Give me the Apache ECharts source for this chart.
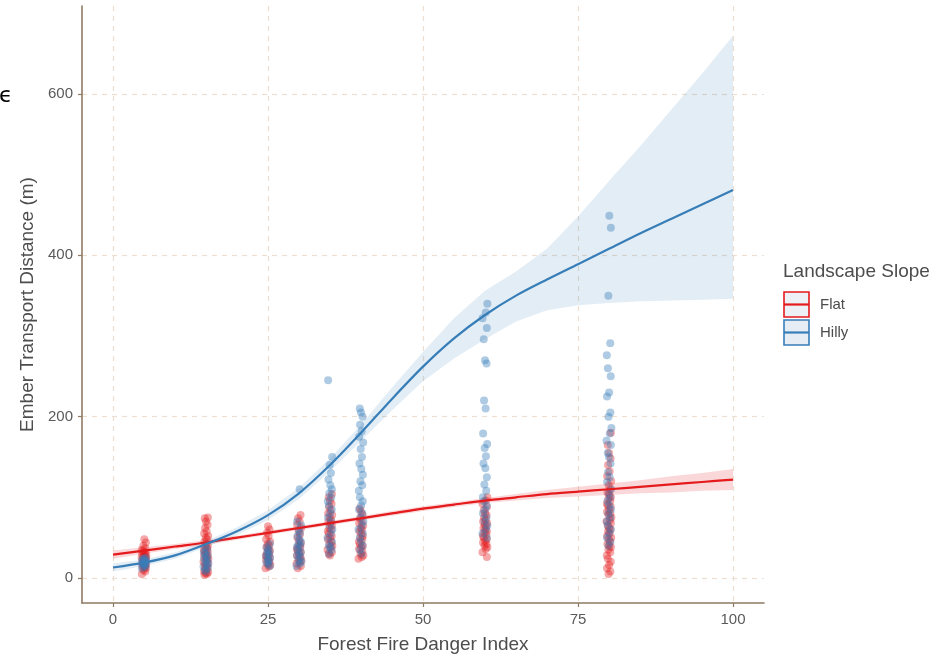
<!DOCTYPE html>
<html><head><meta charset="utf-8">
<script src="https://cdn.jsdelivr.net/npm/echarts@6/dist/echarts.min.js"></script>
<style>html,body{margin:0;padding:0;background:#fff}#c{width:947px;height:657px}</style>
</head><body><div id="c"></div>
<script>
// ---- data ----
const xTicks = [0, 25, 50, 75, 100];
const yTicks = [0, 200, 400, 600];
const fdiLevels = [5, 15, 25, 30, 35, 40, 60, 80];
// observed ember distances (m) per FFDI level
const flatObs = {
  5:  [5,8,10,12,13,14,15,16,17,18,19,20,21,22,23,24,25,26,27,28,29,30,31,32,33,35,37,40,44,48],
  15: [4,5,6,7,8,10,12,14,15,17,18,20,22,24,25,27,28,30,32,33,35,37,38,40,42,45,48,50,52,55,58,62,66,70,74,75],
  25: [12,14,16,18,20,22,24,25,27,28,30,32,34,36,38,40,42,45,48,52,56,60,64],
  30: [12,15,18,20,22,24,26,28,30,32,34,36,38,40,43,46,50,54,58,62,66,70,74,78],
  35: [28,30,32,35,38,40,42,45,48,50,52,55,58,60,62,65,68,70,72,75,78,80,84,88,92,96,100,104],
  40: [24,26,28,30,33,36,38,40,42,45,48,50,52,55,58,60,62,65,68,70,74,78,82,86],
  60: [26,32,36,38,40,42,44,46,48,50,52,54,56,58,60,62,64,66,68,70,72,75,78,80,84,88,92,96,100],
  80: [5,8,12,16,20,24,28,32,35,38,40,42,45,48,50,52,55,58,60,62,65,68,70,72,75,78,80,82,85,88,90,92,95,98,100,103,106,110,115,120,126,132,140,148,155,165,180]
};
const hillyObs = {
  5:  [12,14,15,16,17,18,19,20,21,22,23,24,25],
  15: [8,10,12,14,16,18,20,22,24,26,28,30,32,35,38],
  25: [15,17,19,21,23,25,27,29,31,33,35,38,42],
  30: [15,18,20,22,25,28,30,32,35,38,40,42,45,48,52,56,60,65,70,110],
  35: [30,35,38,40,45,50,55,60,65,70,75,80,85,90,95,100,105,110,115,122,130,140,150,245],
  40: [30,35,40,45,50,55,60,65,70,75,80,85,90,95,100,108,115,120,128,135,142,150,160,168,175,182,190,200,205,210],
  60: [50,55,60,65,70,75,80,85,90,95,100,108,116,125,136,142,151,161,166,179,210,220,266,270,296,310,322,329,340],
  80: [40,45,50,55,60,65,70,75,80,85,90,95,100,105,110,119,125,131,142,150,155,165,170,179,186,200,205,225,230,250,260,276,291,350,434,449]
};
// horizontal jitter (FFDI units) applied to points in order
const jitter = [-0.35,0.2,-0.1,0.3,0.05,-0.25,0.15,-0.05,0.35,-0.3,0.1,-0.15,0.25,0,-0.2,0.3,-0.4,0.12,0.38,-0.08,0.22,-0.32,0.02,0.28,-0.18];
// smoothed fits
const fitX     = [0,5,10,15,20,25,30,35,40,45,50,55,60,65,70,75,80,85,90,95,100];
const flatFit  = [29,34,39,44,50,56,62,68,74,80,86,91,96,100,104,107,110,113,116,119,122];
const flatLo   = [24,30,36,41,47.5,53.5,59.5,65.5,71.5,77,83,88,93,96,99,101,103,105,106,108,109];
const flatHi   = [34,38,42,47,52.5,58.5,64.5,70.5,76.5,83,89,94,99,104,109,113,117,121,126,130,135];
const hillyFit = [13,19,28,42,58,78,105,140,180,222,262,297,326,350,370,389,408,427,445,463,481];
const hillyLo  = [8,15,24,38,53,72,98,132,170,208,244,272,296,318,332,338,341,343,344,345,346];
const hillyHi  = [18,23,32,46,63,84,112,148,190,236,280,322,356,380,408,448,492,535,580,625,672];
const groups = ['Flat', 'Hilly'];

// ---- build ----
function pts(obs) {
  const out = []; let k = 0;
  fdiLevels.forEach(l => obs[l].forEach(v => { out.push([l + jitter[k % jitter.length], v]); k++; }));
  return out;
}
const pair = (xs, ys) => xs.map((x, i) => [x, ys[i]]);

const RED = '#E41A1C', BLUE = '#377EB8';
const AXC = '#8f7a63', TXT = '#4d4d4d';
const chart = echarts.init(document.getElementById('c'), null, {renderer: 'canvas'});

function bandSeries(lo, hi, color, z) {
  return {
    type: 'custom', silent: true, z: z, clip: true,
    data: [[fitX[0], lo[0]]],
    renderItem: function (params, api) {
      const top = fitX.map((x, i) => api.coord([x, hi[i]]));
      const bot = fitX.map((x, i) => api.coord([x, lo[i]])).reverse();
      return {type: 'polygon', shape: {points: top.concat(bot)}, style: {fill: color, stroke: null}};
    }
  };
}

chart.setOption({
  animation: false,
  grid: {left: 82, right: 183, top: 6, bottom: 54, containLabel: false, outerBoundsMode: 'none'},
  xAxis: {
    type: 'value', min: -5, max: 105,
    name: 'Forest Fire Danger Index', nameLocation: 'middle', nameGap: 32,
    nameTextStyle: {color: TXT, fontSize: 19, fontFamily: 'Liberation Sans'},
    axisLine: {show: true, onZero: false, lineStyle: {color: AXC, width: 1.6}},
    axisTick: {show: true, length: 4, customValues: xTicks, lineStyle: {color: AXC, width: 1.2}},
    axisLabel: {customValues: xTicks, color: '#5a5a5a', fontSize: 15, margin: 9, fontFamily: 'Liberation Sans'},
    splitLine: {show: true, lineStyle: {color: '#ecdfd2', type: [5, 5], width: 1.2}}
  },
  yAxis: {
    type: 'value', min: -31, max: 709,
    name: 'Ember Transport Distance (m)', nameLocation: 'middle', nameGap: 43, nameRotate: 90,
    nameTextStyle: {color: TXT, fontSize: 19, fontFamily: 'Liberation Sans'},
    axisLine: {show: true, onZero: false, lineStyle: {color: AXC, width: 1.6}},
    axisTick: {show: true, length: 4, customValues: yTicks, lineStyle: {color: AXC, width: 1.2}},
    axisLabel: {customValues: yTicks, color: '#5a5a5a', fontSize: 15, margin: 9, fontFamily: 'Liberation Sans'},
    splitLine: {show: true, lineStyle: {color: '#ecdfd2', type: [5, 5], width: 1.2}}
  },
  series: [
    {name: groups[0], type: 'scatter', data: pts(flatObs), symbolSize: 8, itemStyle: {color: RED, opacity: 0.38}, z: 2},
    {name: groups[1], type: 'scatter', data: pts(hillyObs), symbolSize: 8, itemStyle: {color: BLUE, opacity: 0.4}, z: 3},
    bandSeries(flatLo, flatHi, 'rgba(228,26,28,0.17)', 4),
    {type: 'line', data: pair(fitX, flatFit), symbol: 'none', smooth: 0.3, lineStyle: {color: RED, width: 2.2}, z: 5},
    bandSeries(hillyLo, hillyHi, 'rgba(55,126,184,0.14)', 6),
    {type: 'line', data: pair(fitX, hillyFit), symbol: 'none', smooth: 0.3, lineStyle: {color: BLUE, width: 2.2}, z: 7}
  ],
  graphic: [
    {type: 'text', left: -1, top: 85, style: {text: 'ϵ', font: '22px "DejaVu Sans"', fill: '#000'}},
    {type: 'text', left: 783, top: 262, style: {text: 'Landscape Slope', font: '19px "Liberation Sans"', fill: TXT}},
    {type: 'rect', shape: {x: 784, y: 292, width: 25, height: 25}, style: {fill: '#edf0f4', stroke: RED, lineWidth: 1.6}},
    {type: 'line', shape: {x1: 784, y1: 304.5, x2: 809, y2: 304.5}, style: {stroke: RED, lineWidth: 2.2}},
    {type: 'rect', shape: {x: 784, y: 320, width: 25, height: 25}, style: {fill: '#e6edf5', stroke: BLUE, lineWidth: 1.6}},
    {type: 'line', shape: {x1: 784, y1: 332.5, x2: 809, y2: 332.5}, style: {stroke: BLUE, lineWidth: 2.2}},
    {type: 'text', left: 820, top: 297, style: {text: groups[0], font: '15px "Liberation Sans"', fill: TXT}},
    {type: 'text', left: 820, top: 325, style: {text: groups[1], font: '15px "Liberation Sans"', fill: TXT}}
  ]
});
</script></body></html>
